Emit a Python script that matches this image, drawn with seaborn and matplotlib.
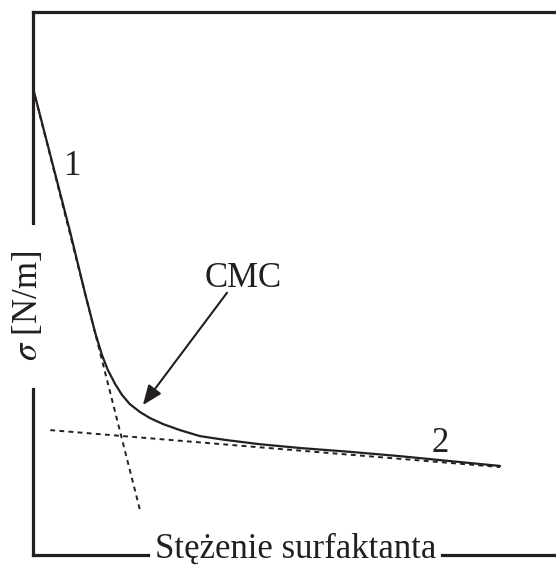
import matplotlib
matplotlib.use("Agg")
import matplotlib.pyplot as plt
import seaborn as sns
import pandas as pd

# curve (arbitrary units, 0..10 on both axes)
conc = [0.0, 0.33, 0.71, 0.99, 1.19, 1.32, 1.43, 1.57, 1.70, 1.85, 2.05,
        2.24, 2.49, 2.81, 3.19, 3.67, 4.34, 5.11, 6.06, 7.02, 7.97, 8.93]
sigma = [8.60, 7.37, 5.95, 4.84, 4.09, 3.68, 3.41, 3.15, 2.95, 2.78, 2.63,
         2.52, 2.41, 2.30, 2.19, 2.12, 2.04, 1.97, 1.90, 1.82, 1.73, 1.64]

# tangent 1 (steep part) and tangent 2 (flat part)
tan1_x = [0.0, 2.05]
tan1_y = [8.60, 0.81]
tan2_x = [0.33, 8.93]
tan2_y = [2.30, 1.62]

cmc_tip = (2.10, 2.76)
cmc_tail = (3.71, 4.83)
cmc_text = (4.02, 5.10)

ink = "#231f20"

sns.set_theme(style="white")
plt.rcParams["font.family"] = ["Liberation Serif", "DejaVu Serif"]
plt.rcParams["mathtext.fontset"] = "stix"

fig = plt.figure(figsize=(5.56, 5.66), dpi=100)
ax = fig.add_axes([33 / 556, 11 / 566, 523 / 556, 543 / 566])
ax.set_xlim(0, 10)
ax.set_ylim(0, 10)
ax.set_xticks([])
ax.set_yticks([])
for s in ax.spines.values():
    s.set_visible(False)

df = pd.DataFrame({"c": conc, "s": sigma})
sns.lineplot(data=df, x="c", y="s", sort=False, estimator=None, color=ink,
             linewidth=1.6, ax=ax)
sns.lineplot(x=tan1_x, y=tan1_y, sort=False, estimator=None, color=ink,
             linewidth=1.4, ax=ax).lines[-1].set_dashes([2.5, 2.2])
sns.lineplot(x=tan2_x, y=tan2_y, sort=False, estimator=None, color=ink,
             linewidth=1.4, ax=ax).lines[-1].set_dashes([2.5, 2.2])

# frame with gaps for the axis labels
frame = dict(color=ink, linewidth=2.3, transform=ax.transAxes, clip_on=False,
             solid_capstyle="projecting")
ax.plot([0, 1], [1, 1], **frame)
ax.plot([0, 0], [1, 0.611], **frame)
ax.plot([0, 0], [0.306, 0], **frame)
ax.plot([0, 0.22], [0, 0], **frame)
ax.plot([0.782, 1], [0, 0], **frame)

ax.text(0.503, 0.01, "Stężenie surfaktanta", transform=ax.transAxes,
        ha="center", va="center", fontsize=25, color=ink)
ax.text(-0.01, 0.459, r"$\sigma$ [N/m]", transform=ax.transAxes,
        ha="center", va="center", rotation=90, fontsize=25, color=ink)

ax.annotate("", xy=cmc_tip, xytext=cmc_tail,
            arrowprops=dict(arrowstyle="-|>,head_length=1.0,head_width=0.4",
                            mutation_scale=12, color=ink, linewidth=1.5,
                            shrinkA=0, shrinkB=0))
ax.text(*cmc_text, "CMC", ha="center", va="center", fontsize=25, color=ink)
ax.text(0.75, 7.15, "1", ha="center", va="center", fontsize=25, color=ink)
ax.text(7.78, 2.05, "2", ha="center", va="center", fontsize=25, color=ink)

fig.savefig("out.png", dpi=100)
